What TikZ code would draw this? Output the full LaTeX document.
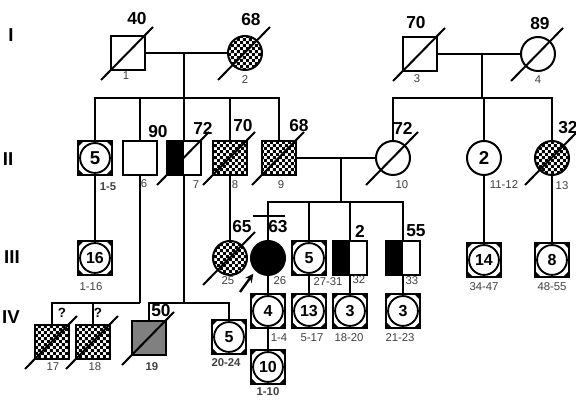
\documentclass[tikz,border=0pt]{standalone}
\usepackage{fontspec}
\setmainfont{Liberation Sans}
\usepackage{tikz}
\usetikzlibrary{patterns,arrows}

\pgfdeclarepatternformonly{finechecker}{\pgfpointorigin}{\pgfqpoint{4.4pt}{4.4pt}}{\pgfqpoint{4.4pt}{4.4pt}}{
	\pgfpathrectangle{\pgfpointorigin}{\pgfqpoint{2.2pt}{2.2pt}}
	\pgfpathrectangle{\pgfqpoint{2.2pt}{2.2pt}}{\pgfqpoint{2.2pt}{2.2pt}}
	\pgfusepath{fill}
}

\tikzset{
	male/.style={draw,rectangle,line width=1.5pt,minimum size=25pt,inner sep=0pt},
	female/.style={draw,circle,line width=1.5pt,minimum size=25.5pt,inner sep=0pt},
	checker/.style={pattern=finechecker},
	halfblack/.style={path picture={\fill (path picture bounding box.south west) rectangle (path picture bounding box.north);}},
	multi/.style={male,font=\bfseries\fontsize{12}{12}\selectfont,
		path picture={
			\draw[line width=1.4pt] (path picture bounding box.center) circle (11.2pt);
			\fill (path picture bounding box.south west) -- ++(4pt,0pt) -- ++(-4pt,4pt) -- cycle;
			\fill (path picture bounding box.south east) -- ++(-4pt,0pt) -- ++(4pt,4pt) -- cycle;
			\fill (path picture bounding box.north west) -- ++(4pt,0pt) -- ++(-4pt,-4pt) -- cycle;
			\fill (path picture bounding box.north east) -- ++(-4pt,0pt) -- ++(4pt,-4pt) -- cycle;
		}},
	big/.style={font=\bfseries\fontsize{14}{14}\selectfont},
	age/.style={font=\bfseries\fontsize{13}{13}\selectfont,inner sep=0pt},
	query/.style={font=\bfseries\fontsize{10}{10}\selectfont,inner sep=0pt},
	idno/.style={font=\fontsize{8.5}{9}\selectfont,text=black!75,inner sep=0pt},
	gen/.style={font=\bfseries\fontsize{14}{14}\selectfont,inner sep=0pt},
	famline/.style={line width=1.6pt},
	slash/.style={line width=1.5pt},
}

\begin{document}
\begin{tikzpicture}[x=0.75pt,y=-0.75pt,>=stealth]
	\useasboundingbox (0,0) rectangle (576,402);
	
	% 代数
	\node[gen] (gI) at (11,35) {I};
	\node[gen] (gII) at (8,159) {II};
	\node[gen] (gIII) at (12,257) {III};
	\node[gen] (gIV) at (11,317) {IV};
	
	% I 代
	\node[male,label={[age,shift={(9,-34)}]center:40},label={[idno,shift={(-2,23)}]center:1}] (I1) at (128,53) {};
	\node[female,checker,label={[age,shift={(6,-33)}]center:68},label={[idno,shift={(0,27)}]center:2}] (I2) at (245,53) {};
	\node[male,label={[age,shift={(-4,-31)}]center:70},label={[idno,shift={(-3,25)}]center:3}] (I3) at (420,54) {};
	\node[female,label={[age,shift={(2,-30)}]center:89},label={[idno,shift={(0,26)}]center:4}] (I4) at (538,54) {};
	
	% II 代
	\node[multi,big,label={[idno,shift={(13,29)}]center:\bfseries 1-5}] (II1) at (95,158) {5};
	\node[male,label={[age,shift={(18,-26)}]center:90},label={[idno,shift={(4,26)}]center:6}] (II6) at (140,158) {};
	\node[male,halfblack,label={[age,shift={(19,-30)}]center:72},label={[idno,shift={(12,27)}]center:7}] (II7) at (184,158) {};
	\node[male,checker,label={[age,shift={(13,-32)}]center:70},label={[idno,shift={(5,27)}]center:8}] (II8) at (230,158) {};
	\node[male,checker,label={[age,shift={(20,-32)}]center:68},label={[idno,shift={(2,27)}]center:9}] (II9) at (279,158) {};
	\node[female,label={[age,shift={(10,-30)}]center:72},label={[idno,shift={(9,27)}]center:10}] (II10) at (393,158) {};
	\node[female,big,label={[idno,shift={(20,27)}]center:11-12}] (II11) at (484,158) {2};
	\node[female,checker,label={[age,shift={(16,-30)}]center:32},label={[idno,shift={(10,28)}]center:13}] (II13) at (552,158) {};
	
	% III 代
	\node[multi,label={[idno,shift={(-4,29)}]center:1-16}] (III1) at (95,258) {16};
	\node[female,checker,label={[age,shift={(12,-31)}]center:65},label={[idno,shift={(-2,23)}]center:25}] (III25) at (230,258) {};
	\node[female,fill=black,label={[age,shift={(10,-31)}]center:63},label={[idno,shift={(12,23)}]center:26}] (III26) at (268,258) {};
	\node[multi,label={[idno,shift={(19,24)}]center:27-31}] (III27) at (309,258) {5};
	\node[male,halfblack,label={[age,shift={(10,-27)}]center:2},label={[idno,shift={(9,22)}]center:32}] (III32) at (350,258) {};
	\node[male,halfblack,label={[age,shift={(13,-27)}]center:55},label={[idno,shift={(9,23)}]center:33}] (III33) at (403,258) {};
	\node[multi,label={[idno,shift={(0,27)}]center:34-47}] (III34) at (484,260) {14};
	\node[multi,label={[idno,shift={(0,27)}]center:48-55}] (III48) at (552,260) {8};
	
	% IV 代
	\node[male,checker,label={[query,shift={(10,-29)}]center:?},label={[idno,shift={(1,25)}]center:17}] (IV17) at (52,342) {};
	\node[male,checker,label={[query,shift={(5,-29)}]center:?},label={[idno,shift={(2,25)}]center:18}] (IV18) at (93,342) {};
	\node[male,fill=black!50,label={[age,shift={(12,-27)}]center:50},label={[idno,shift={(3,29)}]center:\bfseries 19}] (IV19) at (149,338) {};
	\node[multi,label={[idno,shift={(-3,26)}]center:\bfseries 20-24}] (IV20) at (229,337) {5};
	\node[multi,label={[idno,shift={(11,27)}]center:1-4}] (IV1) at (268,311) {4};
	\node[multi,label={[idno,shift={(3,27)}]center:5-17}] (IV5) at (309,311) {13};
	\node[multi,label={[idno,shift={(-1,27)}]center:18-20}] (IV18b) at (350,311) {3};
	\node[multi,label={[idno,shift={(-3,27)}]center:21-23}] (IV21) at (403,311) {3};
	\node[multi,label={[idno,shift={(0,25)}]center:\bfseries 1-10}] (V1) at (268,367) {10};
	
	% 已故
	\foreach \n in {I1,I2,I3,I4,II7,II8,II9,II10,II13,III25,IV17,IV18,IV19}
		\draw[slash] ([shift={(-27,27)}]\n.center) -- ([shift={(25,-26)}]\n.center);
	
	% 婚配与子代
	\coordinate (m1) at (184,53);
	\coordinate (s1) at (184,98);
	\coordinate (m2) at (482,54);
	\coordinate (s2) at (482,98);
	\coordinate (m3) at (341,158);
	\coordinate (s3) at (341,202);
	\coordinate (s4a) at (140,303);
	\coordinate (s4b) at (184,303);
	
	\draw[famline] (I1) -- (I2);
	\draw[famline] (m1) -- (s1);
	\foreach \c in {II1,II6,II7,II8,II9}
		\draw[famline] (\c.north) |- (s1);
	
	\draw[famline] (I3) -- (I4);
	\draw[famline] (m2) -- (s2);
	\foreach \c in {II10,II11,II13}
		\draw[famline] (\c.north) |- (s2);
	
	\draw[famline] (II9) -- (II10);
	\draw[famline] (m3) -- (s3);
	\foreach \c in {III26,III27,III32,III33}
		\draw[famline] (\c.north) |- (s3);
	
	\draw[famline] (II1.south) -- (III1.north);
	\draw[famline] (II8.south) -- (III25.north);
	\draw[famline] (II11.south) -- (III34.north);
	\draw[famline] (II13.south) -- (III48.north);
	
	\draw[famline] (II6.south) -- (s4a);
	\foreach \c in {IV17,IV18}
		\draw[famline] (\c.north) |- (s4a);
	\draw[famline] (II7.south) -- (s4b);
	\foreach \c in {IV19,IV20}
		\draw[famline] (\c.north) |- (s4b);
	
	\draw[famline] (III26.south) -- (IV1.north);
	\draw[famline] (IV1.south) -- (V1.north);
	\draw[famline] (III27.south) -- (IV5.north);
	\draw[famline] (III32.south) -- (IV18b.north);
	\draw[famline] (III33.south) -- (IV21.north);
	
	% 先证者
	\coordinate (b1) at (253,216);
	\coordinate (b2) at (285,216);
	\draw[famline] (b1) -- (b2);
	\coordinate (arr) at (240,292);
	\draw[line width=1.8pt,->] (arr) -- ([shift={(-2,3)}]III26.south west);
	
\end{tikzpicture}
\end{document}
